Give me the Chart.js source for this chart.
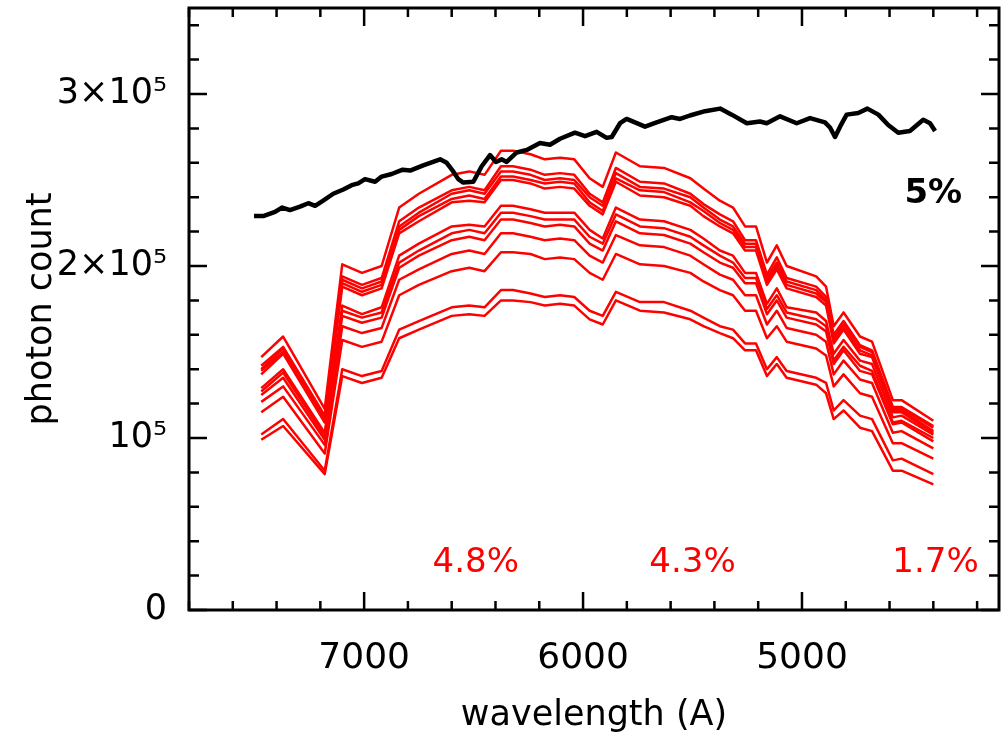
<!DOCTYPE html>
<html>
<head>
<meta charset="utf-8">
<script src="https://cdn.jsdelivr.net/npm/chart.js@4.4.1/dist/chart.umd.min.js"></script>
<style>
  html, body { margin: 0; padding: 0; background: #fff; }
  #wrap { width: 1001px; height: 741px; }
</style>
</head>
<body>
<div id="wrap"><canvas id="spec" width="1001" height="741"></canvas></div>
<script>
// photon counts are in thousands (100 = 10^5)
const blackWave = [7503, 7461, 7407, 7374, 7339, 7293, 7255, 7224, 7187, 7141, 7095, 7057, 7027, 6996, 6950, 6920, 6874, 6824, 6790, 6730,
  6653, 6623, 6593, 6570, 6547, 6501, 6463, 6425, 6398, 6372, 6349, 6303, 6257, 6197, 6151, 6105, 6037, 5991, 5938, 5892,
  5869, 5831, 5801, 5763, 5717, 5664, 5595, 5557, 5512, 5443, 5374, 5321, 5252, 5192, 5161, 5100, 5024, 4963, 4895, 4872,
  4849, 4826, 4796, 4743, 4701, 4651, 4606, 4560, 4507, 4446, 4415, 4392];
const blackCount = [229, 229, 231.5, 234, 232.5, 234.5, 236.5, 235, 238, 242, 244.5, 247, 248, 250.5, 249, 252, 253.5, 256, 255.5, 258.5,
  262, 260, 255, 250.5, 248.5, 249, 258, 264.5, 260.5, 262, 260.5, 266, 267.5, 271.5, 270.5, 274, 277.5, 275.5, 278, 274.5,
  275, 283, 285.5, 283.5, 281, 283.5, 286.5, 285.5, 287.5, 290, 291.5, 288, 283, 284, 283, 287, 283, 286, 283.5, 280.5,
  275, 281, 288, 289, 291.5, 288, 282, 277.5, 278.5, 285, 283, 278.5];

const redWave = [7470, 7370, 7180, 7100, 7010, 6920, 6840, 6750, 6600, 6520, 6450, 6375, 6320, 6240, 6175, 6105, 6040, 5970, 5910, 5850,
  5740, 5630, 5510, 5450, 5375, 5315, 5260, 5210, 5160, 5115, 5070, 4935, 4890, 4855, 4810, 4735, 4680, 4585, 4545, 4400];

const red1 = [147, 159, 117, 201, 196, 200, 234, 242, 253, 255, 253, 267, 267, 265, 262, 263, 262, 251, 246, 266,
  258, 257, 251, 245, 238, 234, 223, 223, 202, 212, 200, 194, 188, 165, 173, 159, 156, 122, 122, 110];
const red2 = [142, 153, 113, 194, 189, 193, 226, 234, 244, 246, 244, 258, 258, 256, 253, 254, 253, 242, 237, 257,
  249, 248, 242, 236, 230, 226, 215, 215, 195, 205, 193, 188, 182, 160, 168, 154, 151, 118, 118, 107];
const red3 = [140, 152, 112, 192, 187, 191, 223, 231, 242, 244, 242, 255, 255, 253, 250, 251, 250, 240, 235, 254,
  246, 245, 240, 234, 227, 223, 213, 213, 193, 202, 191, 186, 180, 158, 166, 153, 150, 117, 117, 106];
const red4 = [139, 150, 111, 190, 185, 189, 221, 229, 239, 241, 239, 252, 252, 250, 248, 249, 248, 237, 232, 251,
  244, 243, 237, 232, 225, 221, 211, 211, 191, 200, 189, 184, 179, 157, 164, 151, 148, 116, 116, 104];
const red5 = [137, 149, 109, 188, 183, 187, 219, 226, 237, 238, 237, 250, 250, 248, 245, 246, 245, 235, 230, 249,
  241, 240, 235, 229, 223, 219, 209, 209, 189, 198, 187, 182, 177, 155, 163, 149, 147, 115, 115, 103];
const red6 = [129, 140, 103, 177, 172, 176, 206, 213, 223, 224, 223, 235, 235, 233, 231, 231, 231, 221, 216, 234,
  227, 226, 221, 216, 209, 206, 196, 196, 178, 187, 176, 173, 168, 149, 157, 145, 143, 112, 113, 102];
const red7 = [127, 138, 101, 174, 170, 173, 202, 209, 219, 221, 219, 231, 231, 229, 227, 227, 227, 217, 213, 230,
  223, 222, 217, 212, 206, 202, 193, 193, 175, 183, 173, 169, 165, 145, 153, 142, 139, 109, 110, 100];
const red8 = [125, 135, 99, 171, 167, 170, 199, 206, 215, 217, 215, 227, 227, 225, 223, 224, 223, 213, 209, 226,
  219, 218, 213, 208, 202, 199, 190, 190, 172, 180, 170, 166, 162, 143, 151, 139, 137, 108, 109, 98];
const red9 = [121, 130, 96, 165, 161, 164, 192, 198, 207, 209, 207, 219, 219, 217, 215, 216, 215, 206, 202, 218,
  212, 211, 206, 201, 195, 192, 183, 183, 166, 174, 164, 160, 156, 137, 145, 134, 132, 103, 104, 94];
const red10 = [115, 124, 91, 157, 153, 156, 183, 189, 197, 199, 197, 208, 208, 207, 204, 205, 204, 196, 192, 207,
  201, 200, 196, 191, 186, 183, 174, 174, 158, 165, 156, 152, 148, 130, 137, 126, 124, 97, 97, 88];
const red11 = [102, 111, 81, 140, 136, 139, 163, 168, 176, 177, 176, 186, 186, 184, 182, 183, 182, 174, 171, 185,
  179, 179, 174, 170, 165, 163, 155, 155, 140, 147, 139, 135, 132, 116, 122, 113, 111, 87, 88, 79];
const red12 = [99, 107, 79, 136, 132, 135, 158, 163, 171, 172, 171, 180, 180, 179, 177, 178, 177, 169, 166, 180,
  174, 173, 169, 165, 161, 158, 151, 151, 136, 143, 135, 131, 126, 111, 116, 106, 104, 81, 81, 73];

const xTickValues = [7000, 6000, 5000];
const xTickLabels = ['7000', '6000', '5000'];
const yTickValues = [0, 100, 200, 300];
const yTickLabels = ['0', '10\u2075', '2\u00d710\u2075', '3\u00d710\u2075'];

const noteText = ['5%', '4.8%', '4.3%', '1.7%'];
const noteWave = [4400, 6490, 5500, 4390];
const noteCount = [242, 27, 27, 27];

const redSeries = [red1, red2, red3, red4, red5, red6, red7, red8, red9, red10, red11, red12];

const datasets = [{
  data: blackWave.map((w, i) => ({ x: w, y: blackCount[i] })),
  borderColor: '#000000',
  borderWidth: 4.5,
  pointRadius: 0,
  borderJoinStyle: 'round',
  tension: 0
}];
redSeries.forEach(s => {
  datasets.push({
    data: redWave.map((w, i) => ({ x: w, y: s[i] })),
    borderColor: '#ff0000',
    borderWidth: 2.5,
    pointRadius: 0,
    borderJoinStyle: 'round',
    tension: 0
  });
});

const frame = {
  id: 'frame',
  afterDraw(chart) {
    const { ctx, chartArea: a, scales: { x, y } } = chart;
    ctx.save();
    ctx.strokeStyle = '#000';
    ctx.lineWidth = 2.5;
    ctx.beginPath();
    x.ticks.forEach(t => {
      const px = x.getPixelForValue(t.value);
      const len = xTickValues.includes(t.value) ? 18 : 9;
      ctx.moveTo(px, a.bottom); ctx.lineTo(px, a.bottom - len);
      ctx.moveTo(px, a.top); ctx.lineTo(px, a.top + len);
    });
    y.ticks.forEach(t => {
      const py = y.getPixelForValue(t.value);
      const len = yTickValues.includes(t.value) ? 18 : 10;
      ctx.moveTo(a.left, py); ctx.lineTo(a.left + len, py);
      ctx.moveTo(a.right, py); ctx.lineTo(a.right - len, py);
    });
    ctx.stroke();
    ctx.lineWidth = 3;
    ctx.strokeRect(a.left, a.top, a.right - a.left, a.bottom - a.top);

    ctx.textAlign = 'center';
    ctx.textBaseline = 'middle';
    noteText.forEach((txt, i) => {
      const bold = i === 0;
      ctx.font = (bold ? 'bold 34px' : '34px') + ' "DejaVu Sans"';
      ctx.fillStyle = bold ? '#000000' : '#ff0000';
      ctx.fillText(txt, x.getPixelForValue(noteWave[i]), y.getPixelForValue(noteCount[i]));
    });
    ctx.restore();
  }
};

new Chart(document.getElementById('spec'), {
  type: 'line',
  data: { datasets },
  options: {
    responsive: false,
    animation: false,
    devicePixelRatio: 1,
    layout: { padding: { left: 0, right: 2, top: 8, bottom: 0 } },
    plugins: { legend: { display: false }, tooltip: { enabled: false } },
    scales: {
      x: {
        type: 'linear',
        reverse: true,
        min: 4100,
        max: 7800,
        border: { display: false },
        grid: { display: false, drawTicks: false },
        afterFit: scale => {
          scale.height = 131;
          scale.paddingLeft = 0;
          scale.paddingRight = 0;
        },
        ticks: {
          stepSize: 200,
          includeBounds: false,
          autoSkip: false,
          maxRotation: 0,
          padding: 27,
          color: '#000',
          font: { family: 'DejaVu Sans', size: 36 },
          callback: v => {
            const k = xTickValues.indexOf(v);
            return k >= 0 ? xTickLabels[k] : '';
          }
        },
        title: {
          display: true,
          text: 'wavelength (A)',
          color: '#000',
          font: { family: 'DejaVu Sans', size: 35 },
          padding: { top: 0, bottom: 4 }
        }
      },
      y: {
        min: 0,
        max: 350,
        border: { display: false },
        grid: { display: false, drawTicks: false },
        afterFit: scale => {
          scale.width = 189;
          scale.paddingTop = 0;
          scale.paddingBottom = 0;
        },
        ticks: {
          stepSize: 20,
          includeBounds: false,
          autoSkip: false,
          padding: 22,
          color: '#000',
          font: { family: 'DejaVu Sans', size: 35 },
          callback: v => {
            const k = yTickValues.indexOf(v);
            return k >= 0 ? yTickLabels[k] : '';
          }
        },
        title: {
          display: true,
          text: 'photon count',
          color: '#000',
          font: { family: 'DejaVu Sans', size: 35 },
          padding: { top: 21, bottom: 0 }
        }
      }
    }
  },
  plugins: [frame]
});
</script>
</body>
</html>
